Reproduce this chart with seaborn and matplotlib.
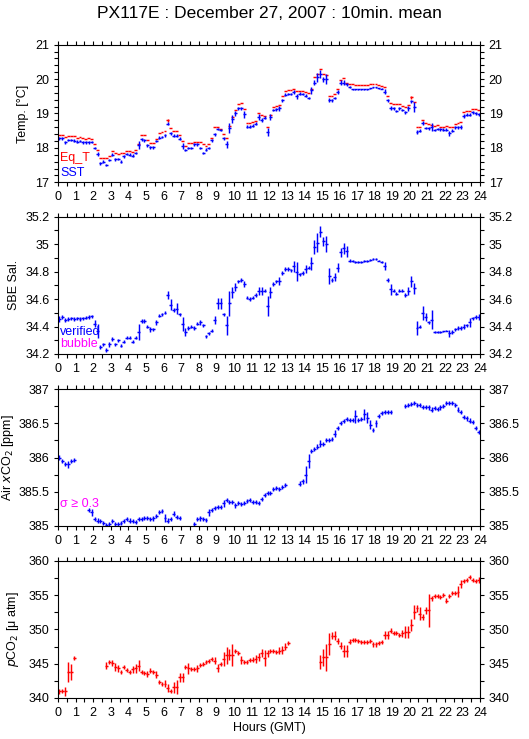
import numpy as np
import pandas as pd
import matplotlib
matplotlib.use("Agg")
import matplotlib.pyplot as plt
import seaborn as sns
from matplotlib.ticker import MultipleLocator, FuncFormatter

nan = np.nan

# 10-minute bins over the day (144 bins), hours GMT
bin_minutes = 10
n_bins = 144

# ---------------- Temperature ----------------
sst = [18.28, 18.28, 18.16, 18.23, 18.23, 18.21,
       18.18, 18.20, 18.16, 18.16, 18.16, 18.17,
       18.00, 17.82, 17.55, 17.60, 17.50, 17.65,
       17.80, 17.67, 17.68, 17.60, 17.75, 17.82,
       17.80, 17.77, 17.85, 18.08, 18.25, 18.22,
       18.08, 18.02, 18.02, 18.20, 18.30, 18.32,
       18.37, 18.70, 18.42, 18.35, 18.35, 18.27,
       18.05, 17.94, 18.00, 18.00, 18.10, 18.10,
       18.00, 17.85, 17.95, 18.00, 18.22, 18.40,
       18.55, 18.52, 18.28, 18.10, 18.57, 18.85,
       19.00, 19.15, 19.15, 18.98, 18.62, 18.62,
       18.65, 18.70, 18.90, 18.82, 18.88, 18.47,
       18.90, 19.10, 19.12, 19.15, 19.38, 19.55,
       19.57, 19.57, 19.62, 19.50, 19.58, 19.57,
       19.52, 19.45, 19.68, 19.90, 20.05, 20.15,
       20.00, 20.00, 19.38, 19.38, 19.45, 19.63,
       19.90, 19.90, 19.85, 19.77, 19.71, 19.70,
       19.70, 19.70, 19.70, 19.71, 19.73, 19.76,
       19.76, 19.74, 19.72, 19.63, 19.38, 19.15,
       19.15, 19.07, 19.15, 19.10, 19.03, 19.15,
       19.35, 19.18, 18.45, 18.50, 18.72, 18.58,
       18.57, 18.60, 18.52, 18.55, 18.54, 18.53,
       18.53, 18.43, 18.50, 18.60, 18.60, 18.62,
       18.93, 18.96, 18.97, 19.03, 19.00, 18.98]
sst_sd = [0.04] * 144
for i, s in {13: 0.07, 27: 0.12, 42: 0.08, 57: 0.10, 58: 0.15, 59: 0.12, 60: 0.06,
             63: 0.10, 68: 0.08, 69: 0.06, 71: 0.12, 72: 0.08, 75: 0.07, 80: 0.06,
             81: 0.08, 86: 0.10, 87: 0.06, 88: 0.12, 89: 0.12, 90: 0.07, 91: 0.15,
             92: 0.06, 95: 0.06, 96: 0.06, 97: 0.06, 111: 0.07, 113: 0.06, 119: 0.07,
             120: 0.05, 121: 0.15, 122: 0.06, 124: 0.05, 127: 0.12, 133: 0.07,
             137: 0.06, 138: 0.05}.items():
    sst_sd[i] = s
for i in range(100, 111):
    sst_sd[i] = 0.015

eq_t = [18.37, 18.38, 18.33, 18.35, 18.36, 18.34,
        18.30, 18.31, 18.30, 18.27, 18.28, 18.27,
        18.12, 17.93, 17.70, 17.72, 17.70, 17.75,
        17.90, 17.85, 17.82, 17.85, 17.85, 17.92,
        17.90, 17.88, 17.95, 18.12, 18.37, 18.37,
        18.22, 18.15, 18.15, 18.27, 18.42, 18.45,
        18.48, 18.80, 18.57, 18.48, 18.48, 18.38,
        18.20, 18.05, 18.13, 18.13, 18.17, 18.17,
        18.17, 18.10, 18.05, 18.10, 18.30, 18.62,
        18.62, 18.55, 18.40, 18.30, 18.65, 18.90,
        19.10, 19.27, 19.30, 19.12, 18.73, 18.72,
        18.74, 18.77, 19.00, 18.95, 18.92, 18.62,
        18.95, 19.20, 19.22, 19.25, 19.50, 19.65,
        19.67, 19.68, 19.70, 19.65, 19.65, 19.65,
        19.63, 19.60, 19.70, 20.05, 20.15, 20.30,
        20.15, 20.12, 19.52, 19.52, 19.57, 19.70,
        19.97, 20.02, 19.90, 19.87, 19.85, 19.82,
        19.82, 19.82, 19.82, 19.82, 19.85, 19.87,
        19.87, 19.84, 19.80, 19.78, 19.52, 19.30,
        19.27, 19.27, 19.27, 19.22, 19.20, 19.25,
        19.47, 19.33, 18.62, 18.62, 18.80, 18.72,
        18.70, 18.67, 18.65, 18.67, 18.62, 18.62,
        18.65, 18.62, 18.62, 18.70, 18.72, 18.75,
        19.05, 19.08, 19.08, 19.13, 19.12, 19.10]
eq_t_sd = [0.0] * 144
eq_t_sd[37] = 0.04
eq_t_sd[120] = 0.04

# ---------------- Salinity ----------------
sal = [34.455, 34.47, 34.445, 34.455, 34.46, 34.455,
       34.46, 34.455, 34.46, 34.465, 34.47, 34.475,
       34.42, 34.37, 34.25, 34.27, 34.23, 34.27,
       34.31, 34.27, 34.30, 34.26, 34.29, 34.32,
       34.32, 34.29, 34.32, 34.36, 34.44, 34.44,
       34.40, 34.38, 34.38, 34.43, 34.48, 34.49,
       34.50, 34.63, 34.56, 34.52, 34.53, 34.49,
       34.42, 34.36, 34.39, 34.40, 34.39, 34.42,
       34.43, 34.41, 34.33, 34.35, 34.37, 34.45,
       34.57, 34.57, 34.49, 34.41, 34.57, 34.65,
       34.69, 34.73, 34.74, 34.71, 34.61, 34.60,
       34.61, 34.63, 34.66, 34.66, 34.66, 34.55,
       34.65, 34.71, 34.73, 34.73, 34.79, 34.82,
       34.82, 34.81, 34.84, 34.80, 34.78, 34.79,
       34.82, 34.83, 34.86, 34.98, 35.01, 35.09,
       35.02, 35.00, 34.77, 34.74, 34.76, 34.83,
       34.94, 34.97, 34.95, 34.88, 34.875, 34.87,
       34.87, 34.87, 34.875, 34.875, 34.885, 34.89,
       34.89, 34.88, 34.87, 34.84, 34.74, 34.67,
       34.66, 34.64, 34.66, 34.66, 34.63, 34.66,
       34.73, 34.68, 34.39, 34.40, 34.50, 34.47,
       34.43, 34.45, 34.36, 34.36, 34.36, 34.365,
       34.37, 34.35, 34.36, 34.38, 34.39, 34.39,
       34.40, 34.41, 34.43, 34.46, 34.47, 34.47]
sal_sd = [0.012] * 144
for i, s in {0: 0.02, 2: 0.015, 12: 0.025, 13: 0.05, 17: 0.02, 27: 0.06, 31: 0.02,
             33: 0.02, 37: 0.03, 38: 0.04, 40: 0.04, 42: 0.05, 43: 0.03, 48: 0.02,
             53: 0.03, 54: 0.04, 55: 0.04, 57: 0.07, 58: 0.09, 59: 0.04, 60: 0.03,
             63: 0.025, 68: 0.03, 69: 0.03, 71: 0.07, 72: 0.04, 75: 0.03, 80: 0.04,
             81: 0.07, 84: 0.03, 86: 0.05, 87: 0.05, 88: 0.07, 89: 0.04, 90: 0.03,
             91: 0.06, 92: 0.06, 94: 0.03, 95: 0.03, 96: 0.03, 97: 0.04, 98: 0.04,
             111: 0.03, 113: 0.04, 119: 0.03, 120: 0.04, 121: 0.04, 122: 0.05,
             124: 0.05, 125: 0.03, 127: 0.07, 133: 0.025, 138: 0.02, 140: 0.03,
             143: 0.02}.items():
    sal_sd[i] = s
for i in list(range(100, 111)) + list(range(128, 133)):
    sal_sd[i] = 0.006

# ---------------- Air xCO2 ----------------
xco2 = ([386.00, 385.95, 385.90, 385.90, 385.95, 385.96]
        + [nan] * 4
        + [385.24, 385.20, 385.10, 385.08, 385.07, 385.05, 385.02, 385.03,
           385.07, 385.03, 385.03, 385.05, 385.07, 385.10, 385.08, 385.07,
           385.06, 385.10, 385.10, 385.12, 385.12, 385.10, 385.11, 385.15,
           385.20, 385.22, 385.12, 385.08, 385.10, 385.18, 385.13, 385.12]
        + [nan] * 4
        + [385.03, 385.10, 385.11, 385.10, 385.09, 385.20, 385.23, 385.26,
           385.28, 385.28, 385.33, 385.38, 385.35, 385.35, 385.30, 385.33,
           385.32, 385.34, 385.37, 385.38, 385.35, 385.35, 385.33, 385.40,
           385.45, 385.48, 385.48, 385.54, 385.55, 385.54, 385.57, 385.60]
        + [nan] * 4
        + [385.62, 385.65, 385.75, 385.95, 386.10, 386.13, 386.16, 386.20,
           386.20, 386.25, 386.25, 386.27, 386.35, 386.43, 386.50, 386.53,
           386.56, 386.55, 386.55, 386.60, 386.55, 386.56, 386.63, 386.58,
           386.48, 386.40, 386.50, 386.60, 386.65, 386.66, 386.66, 386.67]
        + [nan] * 4
        + [386.75, 386.77, 386.78, 386.79, 386.77, 386.76, 386.74, 386.74,
           386.73, 386.70, 386.72, 386.71, 386.73, 386.75, 386.80, 386.80,
           386.79, 386.77, 386.70, 386.66, 386.59, 386.57, 386.54, 386.52,
           386.43, 386.37])
xco2_sd = [0.03] * 144
for i, s in {3: 0.05, 11: 0.05, 36: 0.06, 39: 0.04, 51: 0.05, 56: 0.05, 84: 0.12,
             85: 0.10, 89: 0.05, 94: 0.05, 101: 0.10, 104: 0.08, 105: 0.08,
             106: 0.07, 108: 0.05}.items():
    xco2_sd[i] = s

# ---------------- pCO2 ----------------
pco2 = ([340.95, 341.00, 340.95, 343.80, 343.80, 345.80]
        + [nan] * 10
        + [344.7, 345.3, 345.1, 344.5, 344.3, 343.8, 344.5, 344.1,
           343.8, 344.2, 344.3, 344.7, 343.8, 343.6, 343.5, 344.0,
           343.8, 343.4, 342.3, 342.1, 342.1, 341.5, 341.0, 341.6,
           341.6, 343.0, 343.0, 344.5, 344.3, 344.2, 344.2, 344.3,
           344.8, 345.0, 345.2, 345.4, 345.7, 345.4, 344.4, 345.0,
           345.7, 346.2, 346.3, 346.2, 346.8, 346.5, 345.5, 345.2,
           345.3, 345.5, 345.6, 345.7, 346.0, 346.6, 345.8, 346.5,
           346.8, 346.8, 346.7, 346.9, 347.0, 347.5, 348.0]
        + [nan] * 10
        + [345.2, 345.9, 345.9, 347.8, 349.1, 349.1, 348.3, 347.6,
           346.8, 346.8, 348.2, 348.4, 348.5, 348.3, 348.2, 348.2,
           348.2, 348.3, 347.8, 347.8, 348.0, 348.2, 349.2, 349.2,
           349.8, 349.5, 349.5, 349.2, 349.4, 349.6, 349.6, 350.6,
           352.5, 353.1, 352.3, 351.8, 352.8, 352.8, 354.5, 354.9,
           354.8, 354.7, 355.0, 354.2, 354.9, 355.3, 355.3, 355.5,
           356.6, 357.1, 357.2, 357.6, 357.2, 357.0, 357.2])
pco2_sd = [0.3] * 144
for i, s in {2: 0.7, 3: 1.4, 4: 1.2, 16: 0.5, 18: 0.5, 19: 0.6, 20: 0.5, 25: 0.5,
             26: 0.6, 27: 0.8, 30: 0.4, 33: 0.5, 36: 0.5, 37: 0.6, 39: 0.8,
             40: 1.0, 41: 0.6, 42: 0.7, 44: 0.8, 47: 0.5, 53: 0.5, 54: 0.6,
             56: 1.0, 57: 1.2, 58: 0.8, 59: 1.6, 62: 0.6, 67: 0.6, 68: 0.6,
             69: 0.6, 70: 1.2, 71: 0.5, 75: 0.5, 76: 0.6, 77: 0.5, 89: 1.0,
             90: 1.3, 91: 1.9, 92: 1.6, 93: 0.5, 94: 0.7, 95: 0.5, 96: 0.5,
             97: 0.9, 98: 0.9, 99: 0.4, 111: 0.6, 112: 0.6, 113: 0.4, 117: 0.5,
             118: 0.9, 119: 0.9, 120: 0.9, 121: 1.0, 122: 0.5, 123: 1.0,
             124: 0.4, 125: 0.5, 126: 2.4, 127: 0.3, 131: 0.3, 132: 0.4,
             136: 0.8, 137: 0.6, 140: 0.3, 142: 0.3, 143: 0.4}.items():
    pco2_sd[i] = s

hour_labels = [str(h) for h in range(25)]
title = "PX117E : December 27, 2007 : 10min. mean"

# ---------------- plotting ----------------
sns.set_theme(style="ticks")
plt.rcParams['font.family'] = ['Liberation Sans', 'DejaVu Sans']
plt.rcParams['axes.linewidth'] = 0.8

t_start = np.arange(n_bins) * bin_minutes / 60.0
half = bin_minutes / 120.0
t_mid = t_start + half

W, H = 529, 739
fig = plt.figure(figsize=(W / 100, H / 100), dpi=100)
fig.patch.set_facecolor("white")

panels_px = [(44.7, 182.3), (216.7, 354.0), (389.0, 526.0), (560.7, 698.0)]
left_px, right_px = 58, 480

BLUE = "#0000ff"
RED = "#ff0000"
MAG = "#ff00ff"
LW = 1.05


def draw(ax, values, sds, color):
    df = pd.DataFrame({"t": t_mid, "v": values, "s": sds}).dropna()
    ax.errorbar(df["t"], df["v"], xerr=half, yerr=df["s"], fmt="none",
                ecolor=color, elinewidth=LW, capsize=0)


fmt = FuncFormatter(lambda v, p: f"{v:g}")

specs = [
    dict(ylim=(17, 21), major=1, minor=0.2, ylabel="Temp. [°C]", lx=-0.069),
    dict(ylim=(34.2, 35.2), major=0.2, minor=0.1, ylabel="SBE Sal.", lx=-0.091),
    dict(ylim=(385, 387), major=0.5, minor=0.25,
         ylabel=r"Air $x$CO$_2$ [ppm]", lx=-0.099),
    dict(ylim=(340, 360), major=5, minor=2.5,
         ylabel=r"$p$CO$_2$ [μ atm]", lx=-0.088),
]

axes = []
for (top, bot), sp in zip(panels_px, specs):
    ax = fig.add_axes([left_px / W, 1 - bot / H, (right_px - left_px) / W, (bot - top) / H])
    ax.set_facecolor("white")
    ax.set_xlim(0, 24)
    ax.set_ylim(*sp["ylim"])
    ax.xaxis.set_major_locator(MultipleLocator(1))
    ax.xaxis.set_minor_locator(MultipleLocator(0.5))
    ax.set_xticks(range(25))
    ax.set_xticklabels(hour_labels)
    ax.yaxis.set_major_locator(MultipleLocator(sp["major"]))
    ax.yaxis.set_minor_locator(MultipleLocator(sp["minor"]))
    ax.yaxis.set_major_formatter(fmt)
    ax.tick_params(axis="both", which="both", direction="out", length=3, width=0.8,
                   color="black", labelsize=9, labelcolor="black")
    ax.tick_params(axis="x", which="both", top=True, bottom=True, labeltop=False, pad=3.5)
    ax.tick_params(axis="y", which="both", left=True, right=True, labelright=True)
    ax.tick_params(axis="y", which="major", pad=3.2)
    for sp_name in ax.spines:
        ax.spines[sp_name].set_visible(True)
        ax.spines[sp_name].set_color("black")
        ax.spines[sp_name].set_linewidth(0.8)
    ax.grid(False)
    ax.set_ylabel(sp["ylabel"], fontsize=9, color="black")
    ax.yaxis.set_label_coords(sp["lx"], 0.5)
    axes.append(ax)

ax1, ax2, ax3, ax4 = axes
draw(ax1, eq_t, eq_t_sd, RED)
draw(ax1, sst, sst_sd, BLUE)
ax1.text(0.005, 0.177, "Eq_T", color=RED, fontsize=9, transform=ax1.transAxes, va="center")
ax1.text(0.005, 0.071, "SST", color=BLUE, fontsize=9, transform=ax1.transAxes, va="center")

draw(ax2, sal, sal_sd, BLUE)
ax2.text(0.005, 0.16, "verified", color=BLUE, fontsize=9, transform=ax2.transAxes, va="center")
ax2.text(0.005, 0.073, "bubble", color=MAG, fontsize=9, transform=ax2.transAxes, va="center")

draw(ax3, xco2, xco2_sd, BLUE)
ax3.text(0.005, 0.16, "σ ≥ 0.3", color=MAG, fontsize=9, transform=ax3.transAxes, va="center")

draw(ax4, pco2, pco2_sd, RED)
ax4.set_xlabel("Hours (GMT)", fontsize=9, color="black", labelpad=2)

fig.text(0.51, 1 - 14 / H, title, ha="center", va="center", fontsize=12.5, color="black")

fig.savefig("out.png", dpi=100, facecolor="white")
